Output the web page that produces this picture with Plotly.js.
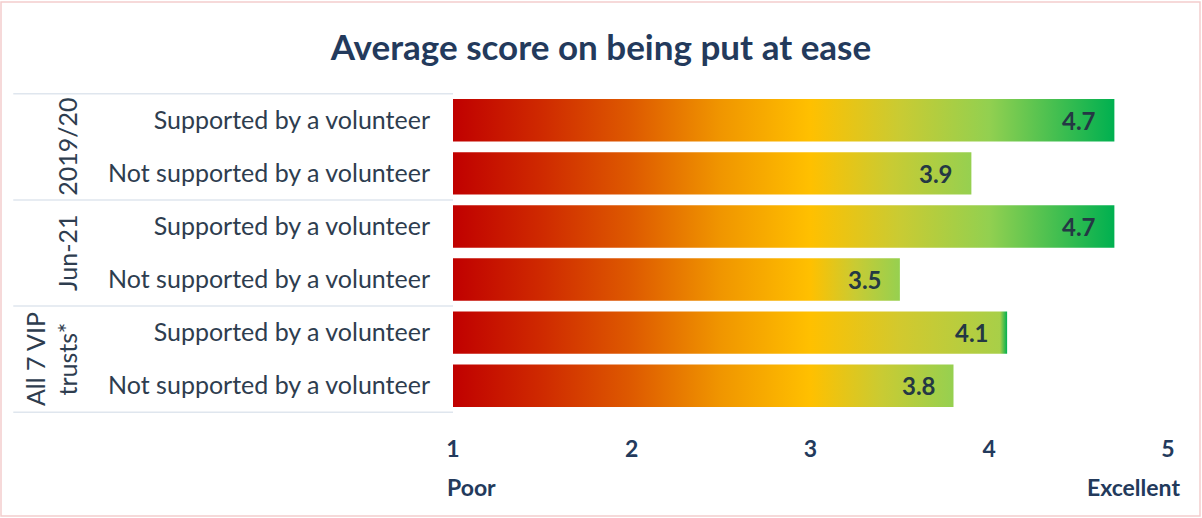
<!DOCTYPE html>
<html>
<head>
<meta charset="utf-8">
<script src="https://cdn.plot.ly/plotly-3.0.1.min.js"></script>
<style>
  html, body { margin: 0; padding: 0; background: #ffffff; }
  #chart { width: 1202px; height: 518px; }
</style>
</head>
<body>
<div id="chart"></div>
<script>
// ---- data ----
var groups = ["2019/20", "2019/20", "Jun-21", "Jun-21", "All 7 VIP<br>trusts*", "All 7 VIP<br>trusts*"];
var categories = ["Supported by a volunteer", "Not supported by a volunteer",
                  "Supported by a volunteer", "Not supported by a volunteer",
                  "Supported by a volunteer", "Not supported by a volunteer"];
var scores = [4.7, 3.9, 4.7, 3.5, 4.1, 3.8];
var groupNames = ["2019/20", "Jun-21", "All 7 VIP<br>trusts*"];
var tickValues = [1, 2, 3, 4, 5];
var scaleEnds = ["Poor", "Excellent"];

// unique keys for category axis
var keys = categories.map(function (c, i) { return groups[i] + " | " + c; });

var navy = "#233a5c";
var textCol = "#2e3d4f";
var fontFam = "Lato, 'Open Sans', sans-serif";

var trace = {
  type: "bar",
  orientation: "h",
  x: scores,
  y: keys,
  width: 0.8,
  marker: { color: "#e06000", line: { width: 0 } },
  hoverinfo: "x+y",
  showlegend: false
};

// value labels
var annotations = scores.map(function (v, i) {
  return {
    x: v, y: keys[i], xref: "x", yref: "y",
    text: v.toFixed(1), showarrow: false,
    xanchor: "right", xshift: -16, yshift: 0,
    font: { family: fontFam, size: 24, color: "#243844", weight: 700 }
  };
});

// group labels (rotated)
var groupMid = [0.5, 2.5, 4.5];
var groupShift = [0, 0, -16];
groupNames.forEach(function (g, gi) {
  annotations.push({
    x: -0.54, xref: "paper", y: groupMid[gi], yref: "y",
    xshift: groupShift[gi],
    text: g, showarrow: false, textangle: -90,
    xanchor: "center", yanchor: "middle",
    font: { family: fontFam, size: 25, color: textCol }
  });
});

// Poor / Excellent
annotations.push({
  x: tickValues[0], xref: "x", y: 0, yref: "paper", yshift: -74,
  text: "<b>" + scaleEnds[0] + "</b>", showarrow: false,
  xanchor: "left", yanchor: "middle", xshift: -8,
  font: { family: fontFam, size: 23, color: navy }
});
annotations.push({
  x: tickValues[tickValues.length - 1], xref: "x", y: 0, yref: "paper", yshift: -74,
  text: "<b>" + scaleEnds[1] + "</b>", showarrow: false,
  xanchor: "right", yanchor: "middle", xshift: 14,
  font: { family: fontFam, size: 23, color: navy }
});

// divider lines in label area
var shapes = [-0.5, 1.5, 3.5, 5.5].map(function (yv) {
  return {
    type: "line", xref: "paper", yref: "y",
    x0: -0.615, x1: 0.0, y0: yv, y1: yv,
    line: { color: "#dfe6ee", width: 1.5 }
  };
});
// outer light-pink frame
shapes.push({
  type: "rect", xref: "paper", yref: "paper",
  x0: (1 - 453) / 715, x1: (1200 - 453) / 715,
  y0: (413 - 516) / 320, y1: (413 - 2) / 320,
  line: { color: "#f3cdcd", width: 1.5 }, fillcolor: "rgba(0,0,0,0)", layer: "below"
});

var layout = {
  width: 1202, height: 518,
  margin: { l: 453, r: 34, t: 93, b: 105 },
  paper_bgcolor: "#ffffff", plot_bgcolor: "#ffffff",
  title: {
    text: "<b>Average score on being put at ease</b>",
    x: 0.5, xref: "container", xanchor: "center",
    y: 1 - 48 / 518, yref: "container", yanchor: "middle",
    font: { family: fontFam, size: 35, color: navy }
  },
  xaxis: {
    range: [1, 5], tickvals: tickValues, ticktext: tickValues.map(function (t) { return "<b>" + t + "</b>"; }),
    showgrid: false, zeroline: false, showline: false, ticks: "",
    ticklabelstandoff: 20,
    tickfont: { family: fontFam, size: 23, color: navy },
    fixedrange: true
  },
  yaxis: {
    type: "category", autorange: "reversed",
    tickvals: keys, ticktext: categories,
    showgrid: false, zeroline: false, showline: false, ticks: "",
    ticklabelstandoff: 22,
    tickfont: { family: fontFam, size: 25, color: textCol },
    fixedrange: true
  },
  bargap: 0.2,
  annotations: annotations,
  shapes: shapes
};

// gradient stops in axis units for a bar ending at v
function stopsFor(v) {
  var s = [[1, "#c00000"], [1.5, "#cf2a00"], [2, "#de5a00"], [2.5, "#f09600"], [3, "#ffc000"]];
  if (v <= 4.05) {
    s.push([(3 + v) / 2, "#c9cb33"]);
    s.push([v, "#96d050"]);
  } else if (v < 4.3) {
    s.push([3.5, "#d2c92e"]);
    s.push([v - 0.04, "#a8cf48"]);
    s.push([v, "#00b050"]);
  } else {
    s.push([3.5, "#c9cb33"]);
    s.push([4, "#92d050"]);
    s.push([v, "#00b050"]);
  }
  return s;
}

function applyGradients() {
  var gd = document.getElementById("chart");
  var xa = gd._fullLayout.xaxis;
  var svg = gd.querySelector(".main-svg");
  var defs = svg.querySelector("defs");
  var NS = "http://www.w3.org/2000/svg";
  var paths = gd.querySelectorAll(".barlayer .trace .point path");
  paths.forEach(function (p, i) {
    var v = scores[i];
    var id = "barGrad" + i;
    var old = document.getElementById(id);
    if (old) old.parentNode.removeChild(old);
    var lg = document.createElementNS(NS, "linearGradient");
    lg.setAttribute("id", id);
    lg.setAttribute("gradientUnits", "userSpaceOnUse");
    var xStart = xa.c2p(1), xEnd = xa.c2p(v);
    lg.setAttribute("x1", xStart);
    lg.setAttribute("x2", xEnd);
    lg.setAttribute("y1", 0);
    lg.setAttribute("y2", 0);
    stopsFor(v).forEach(function (st) {
      var s = document.createElementNS(NS, "stop");
      var off = (st[0] - 1) / (v - 1);
      s.setAttribute("offset", Math.max(0, Math.min(1, off)));
      s.setAttribute("stop-color", st[1]);
      lg.appendChild(s);
    });
    defs.appendChild(lg);
    p.style.fill = "url(#" + id + ")";
  });
}

Plotly.newPlot("chart", [trace], layout, { displayModeBar: false, staticPlot: true }).then(function (gd) {
  applyGradients();
  gd.on("plotly_afterplot", applyGradients);
});
</script>
</body>
</html>
